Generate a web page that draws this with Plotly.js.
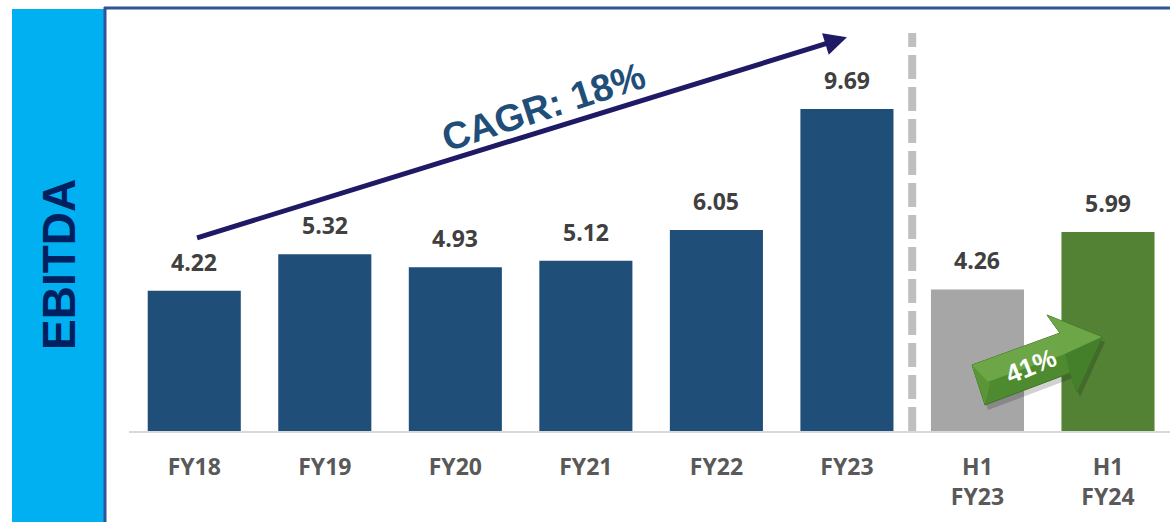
<!DOCTYPE html>
<html>
<head>
<meta charset="utf-8">
<script src="https://cdn.plot.ly/plotly-3.0.1.min.js"></script>
<style>html,body{margin:0;padding:0;background:#fff;}#chart{width:1170px;height:522px;}</style>
</head>
<body>
<div id="chart"></div>
<script>
// ---- data ----
const categories = ['FY18', 'FY19', 'FY20', 'FY21', 'FY22', 'FY23', 'H1 FY23', 'H1 FY24'];
const tickLabels = ['FY18', 'FY19', 'FY20', 'FY21', 'FY22', 'FY23', 'H1<br>FY23', 'H1<br>FY24'];
const ebitda = [4.22, 5.32, 4.93, 5.12, 6.05, 9.69, 4.26, 5.99];
const metricLabel = 'EBITDA';
const cagrLabel = 'CAGR: 18%';
const growthLabel = '41%';

// ---- styles ----
const barColors = ['#1F4E79', '#1F4E79', '#1F4E79', '#1F4E79', '#1F4E79', '#1F4E79', '#A6A6A6', '#548235'];
const W = 1170, H = 522;
const M = {l: 129, r: 0, t: 9, b: 91};
const pw = W - M.l - M.r, ph = H - M.t - M.b;
// pixel -> paper helpers for decorations
const px = x => (x - M.l) / pw;
const py = y => (H - M.b - y) / ph;
function path(pts) {
  return 'M ' + pts.map(p => px(p[0]).toFixed(5) + ',' + py(p[1]).toFixed(5)).join(' L ') + ' Z';
}

const trace = {
  type: 'bar',
  x: categories,
  y: ebitda,
  marker: {color: barColors},
  width: 0.713,
  hoverinfo: 'skip'
};

const valueAnn = categories.map((c, i) => ({
  x: c, y: ebitda[i], xref: 'x', yref: 'y',
  text: ebitda[i].toFixed(2),
  showarrow: false, yanchor: 'bottom', yshift: 11,
  font: {family: 'Open Sans', size: 23, color: '#404040', weight: 700}
}));

// green growth arrow geometry (pixels)
const arrowPts = [[972,365],[1060,333],[1047,315],[1102,337],[1077,392],[1070,373],[985,405]];
const shadowPts = arrowPts.map(p => [p[0] + 3, p[1] + 5]);
const topFacet = [[972,365],[1060,333],[1047,315],[1102,337],[1065,354],[979,385]];
const tailFacet = [[972,365],[990,384],[985,405]];
const headFacet = [[1102,337],[1077,392],[1070,373],[1065,354]];

const shapes = [
  {type: 'rect', xref: 'paper', yref: 'paper', x0: px(12), x1: px(104), y0: py(522), y1: py(9),
   fillcolor: '#00B0F0', line: {width: 0}, layer: 'below'},
  {type: 'line', xref: 'paper', yref: 'paper', x0: px(105), x1: px(105), y0: py(522), y1: py(7),
   line: {color: '#2F5597', width: 3}},
  {type: 'line', xref: 'paper', yref: 'paper', x0: px(104), x1: px(1170), y0: py(8), y1: py(8),
   line: {color: '#2F5597', width: 3}},
  {type: 'line', xref: 'x', yref: 'paper', x0: 5.5, x1: 5.5, y0: 0, y1: py(33),
   line: {color: '#BFBFBF', width: 8, dash: '24px,8px'}, layer: 'below'},
  {type: 'path', xref: 'paper', yref: 'paper', path: path(shadowPts),
   fillcolor: 'rgba(0,0,0,0.18)', line: {width: 0}, layer: 'above'},
  {type: 'path', xref: 'paper', yref: 'paper', path: path(arrowPts),
   fillcolor: '#4E8A2F', line: {color: '#3F7425', width: 1}, layer: 'above'},
  {type: 'path', xref: 'paper', yref: 'paper', path: path(topFacet),
   fillcolor: '#6CA646', line: {width: 0}, layer: 'above'},
  {type: 'path', xref: 'paper', yref: 'paper', path: path(tailFacet),
   fillcolor: '#5A9538', line: {width: 0}, layer: 'above'},
  {type: 'path', xref: 'paper', yref: 'paper', path: path(headFacet),
   fillcolor: '#44802A', line: {width: 0}, layer: 'above'}
];

const annotations = valueAnn.concat([
  {xref: 'paper', yref: 'paper', x: px(59), y: py(265), xanchor: 'center', yanchor: 'middle',
   text: metricLabel, textangle: -90,
   showarrow: false, font: {family: 'Liberation Sans', size: 46, color: '#002060', weight: 700}},
  // CAGR trend arrow
  {xref: 'x', yref: 'y', x: 5.0, y: 11.85, axref: 'x', ayref: 'y', ax: 0.01, ay: 5.8,
   text: '', showarrow: true, arrowhead: 2, arrowsize: 0.9, arrowwidth: 5, arrowcolor: '#1F1A66', standoff: 0},
  {xref: 'paper', yref: 'paper', x: px(543), y: py(107), xanchor: 'center', yanchor: 'middle',
   text: cagrLabel, textangle: -18,
   showarrow: false, font: {family: 'Liberation Sans', size: 38, color: '#1F4E79', weight: 700}},
  {xref: 'paper', yref: 'paper', x: px(1031), y: py(366), xanchor: 'center', yanchor: 'middle',
   text: growthLabel, textangle: -22,
   showarrow: false, font: {family: 'Liberation Sans', size: 26, color: '#FFFFFF', weight: 700}}
]);

const layout = {
  width: W, height: H,
  margin: M,
  paper_bgcolor: '#FFFFFF', plot_bgcolor: '#FFFFFF',
  showlegend: false,
  xaxis: {
    type: 'category', range: [-0.5, 7.475], fixedrange: true,
    tickvals: categories, ticktext: tickLabels,
    showline: true, linecolor: '#D9D9D9', linewidth: 2, showgrid: false, ticks: '',
    ticklabelstandoff: 14,
    tickfont: {family: 'Open Sans', size: 23, color: '#595959', weight: 700}
  },
  yaxis: {range: [0, 12.7], visible: false, showgrid: false, zeroline: false, fixedrange: true},
  shapes: shapes,
  annotations: annotations
};

Plotly.newPlot('chart', [trace], layout, {displayModeBar: false, staticPlot: true});
</script>
</body>
</html>
